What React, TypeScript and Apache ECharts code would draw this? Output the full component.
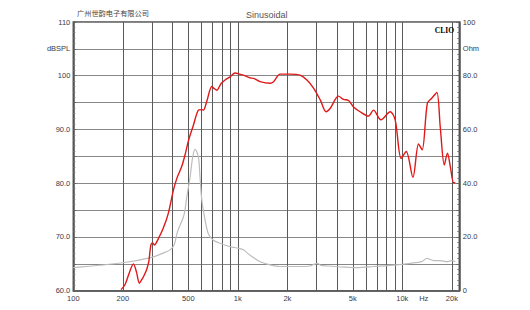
import React, { useEffect, useRef } from "react";
import * as echarts from "echarts";

// SPL curve (Hz, dBSPL)
const splFreq = [195, 206, 220, 232, 242, 252, 260, 267, 279, 288, 296, 303, 311, 329, 352, 378, 406, 426, 456, 480, 502, 537, 576, 600, 618, 647, 695, 720, 745, 790, 837, 898, 963, 1000, 1082, 1188, 1250, 1367, 1572, 1650, 1807, 2080, 2393, 2630, 2886, 3170, 3443, 3640, 4090, 4387, 4707, 5050, 5540, 6225, 6680, 7410, 8440, 9050, 9840, 10560, 11600, 12550, 13200, 14200, 15100, 16200, 17000, 18000, 18800, 19600, 20500, 21000];
const splDb = [60.2, 61.1, 63.5, 65.0, 63.5, 61.4, 62.0, 62.6, 63.9, 65.5, 68.5, 68.9, 68.5, 69.7, 71.6, 74.4, 78.7, 80.9, 83.1, 85.5, 88.0, 90.8, 93.6, 93.7, 93.6, 95.2, 98.0, 97.6, 97.3, 98.5, 99.2, 99.8, 100.5, 100.4, 100.1, 99.6, 99.5, 98.9, 98.6, 98.9, 100.3, 100.3, 100.1, 99.2, 97.7, 95.5, 93.3, 93.9, 96.2, 95.6, 95.4, 94.2, 93.3, 92.5, 93.6, 91.8, 93.3, 91.8, 84.6, 85.9, 81.1, 87.3, 86.2, 94.9, 95.8, 96.9, 90.5, 83.4, 85.6, 83.0, 80.1, 80.1];

// Impedance curve (Hz, Ohm)
const impFreq = [100, 200, 300, 352, 387, 410, 430, 470, 490, 513, 532, 550, 576, 589, 604, 625, 660, 710, 800, 898, 1009, 1082, 1188, 1367, 1572, 1800, 2300, 2750, 2900, 3050, 3200, 3500, 4400, 5300, 6700, 9200, 11200, 13100, 14100, 15500, 17000, 18700, 20000, 21000];
const impOhm = [8.6, 10.4, 12.4, 14.0, 15.2, 17.0, 22.0, 28.0, 35.0, 42.4, 49.8, 52.6, 49.8, 42.4, 33.8, 28.0, 21.4, 18.8, 17.4, 16.4, 15.8, 15.2, 13.2, 10.8, 9.6, 9.0, 9.0, 9.2, 9.8, 10.2, 9.4, 9.2, 8.8, 8.6, 9.0, 9.6, 10.2, 10.8, 12.0, 11.2, 11.2, 10.8, 11.2, 10.8];

// Axis grid / labels
const xGridFreqs = [100, 200, 300, 400, 500, 600, 700, 800, 900, 1000, 2000, 3000, 4000, 5000, 6000, 7000, 8000, 9000, 10000, 20000];
const xLabelFreqs = [100, 200, 500, 1000, 2000, 5000, 10000, 13500, 20000];
const xLabelTexts = ["100", "200", "500", "1k", "2k", "5k", "10k", "Hz", "20k"];
const leftTickValues = [110, 105, 100, 90, 80, 70, 60];
const leftTickTexts = ["110", "dBSPL", "100", "90.0", "80.0", "70.0", "60.0"];
const rightTickValues = [100, 90, 80, 60, 40, 20, 0];
const rightTickTexts = ["100", "Ohm", "80.0", "60.0", "40.0", "20.0", "0"];

const FONT = "'Liberation Sans', Arial, 'Noto Sans CJK SC', sans-serif";
const LABEL_COLOR = "#3a3a48";

export default function App() {
  const ref = useRef<HTMLDivElement>(null);
  useEffect(() => {
    if (!ref.current) return;
    const chart = echarts.init(ref.current, undefined, { renderer: "svg" });
    const spl = splFreq.map((f, i) => [f, splDb[i]]);
    const imp = impFreq.map((f, i) => [f, impOhm[i]]);
    const leftFmt = (v: number) => {
      const i = leftTickValues.indexOf(Math.round(v));
      return i >= 0 ? leftTickTexts[i] : "";
    };
    const rightFmt = (v: number) => {
      const i = rightTickValues.indexOf(Math.round(v));
      return i >= 0 ? rightTickTexts[i] : "";
    };
    chart.setOption({
      animation: false,
      backgroundColor: "#ffffff",
      title: [
        {
          text: "广州世韵电子有限公司",
          left: 72,
          top: 5,
          textStyle: { fontSize: 7.2, fontWeight: "normal", color: "#444", fontFamily: FONT },
        },
        {
          text: "Sinusoidal",
          left: 241,
          top: 5,
          textStyle: { fontSize: 9, fontWeight: "normal", color: "#555", fontFamily: FONT },
        },
        {
          text: "CLIO",
          right: 71,
          top: 21,
          textStyle: { fontSize: 7.5, fontWeight: "bold", color: "#000", fontFamily: "'Liberation Serif', 'DejaVu Serif', serif" },
        },
      ],
      grid: {
        left: 73.3,
        right: 70.7,
        top: 22,
        bottom: 19.3,
        show: true,
        borderColor: "#505050",
        borderWidth: 1.5,
        containLabel: false,
      },
      xAxis: {
        type: "log",
        logBase: 10,
        min: 100,
        max: 22200,
        axisLine: { show: true, lineStyle: { color: "#505050", width: 1.5 } },
        axisTick: { show: false, customValues: xGridFreqs },
        axisLabel: {
          customValues: xLabelFreqs,
          formatter: (v: number) => {
            let best = 0;
            let bd = Infinity;
            xLabelFreqs.forEach((f, i) => {
              const d = Math.abs(Math.log10(f) - Math.log10(v));
              if (d < bd) { bd = d; best = i; }
            });
            return xLabelTexts[best];
          },
          fontSize: 7.5,
          color: LABEL_COLOR,
          fontFamily: FONT,
          margin: 4,
        },
        splitLine: { show: true, lineStyle: { color: "#5a5a5a", width: 1 } },
      },
      yAxis: [
        {
          type: "value",
          position: "left",
          min: 60,
          max: 110,
          interval: 5,
          axisLine: { show: true, lineStyle: { color: "#505050", width: 1.5 } },
          axisTick: { show: true, inside: true, length: 3, lineStyle: { color: "#666" } },
          minorTick: { show: true, splitNumber: 5, length: 2, lineStyle: { color: "#777" } },
          axisLabel: { formatter: leftFmt, fontSize: 7.5, color: LABEL_COLOR, fontFamily: FONT, margin: 3 },
          splitLine: { show: true, lineStyle: { color: "#888", width: 1.2 } },
        },
        {
          type: "value",
          position: "right",
          min: 0,
          max: 100,
          interval: 10,
          axisLine: { show: true, lineStyle: { color: "#505050", width: 1.5 } },
          axisTick: { show: true, inside: true, length: 3, lineStyle: { color: "#666" } },
          minorTick: { show: true, splitNumber: 5, length: 2, lineStyle: { color: "#777" } },
          axisLabel: { formatter: rightFmt, fontSize: 7.5, color: LABEL_COLOR, fontFamily: FONT, margin: 3.5 },
          splitLine: { show: false },
        },
      ],
      series: [
        {
          name: "Impedance",
          type: "line",
          yAxisIndex: 1,
          data: imp,
          smooth: 0.3,
          showSymbol: false,
          lineStyle: { color: "#bdbdbd", width: 1.2 },
          z: 3,
        },
        {
          name: "SPL",
          type: "line",
          yAxisIndex: 0,
          data: spl,
          smooth: 0.3,
          showSymbol: false,
          lineStyle: { color: "#e01818", width: 1.4 },
          z: 4,
        },
      ],
    });
    return () => chart.dispose();
  }, []);
  return (
    <div
      ref={ref}
      style={{ position: "absolute", left: 0, top: 0, width: 530, height: 310 }}
    />
  );
}
